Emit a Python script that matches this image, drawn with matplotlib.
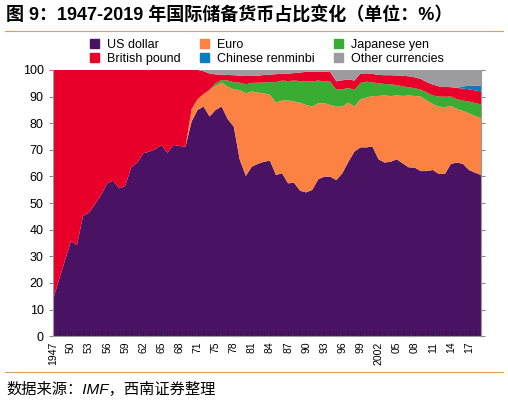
import matplotlib.pyplot as plt
import numpy as np

plt.rcParams['font.family'] = ['Liberation Sans', 'Noto Sans CJK SC', 'DejaVu Sans']

# years on the category axis (one year between 1971 and 1975 is absent in the source)
years = list(range(1947, 1972)) + [1973, 1974] + list(range(1975, 2020))
tick_labels = ['1947', '50', '53', '56', '59', '62', '65', '68', '71', '75', '78', '81',
               '84', '87', '90', '93', '96', '99', '2002', '05', '08', '11', '14', '17']

# shares in %
usd = [13.5, 21.0, 28.3, 35.7, 34.2, 45.1, 46.4, 49.6, 53.0, 57.4, 58.4, 55.5, 56.4, 63.4,
       65.2, 68.7, 69.3, 70.2, 71.8, 68.9, 71.8, 71.4, 71.2, 80.6, 85.0, 86.2, 82.5, 85.0,
       86.2, 81.5, 78.7, 66.2, 60.2, 63.7, 64.7, 65.5, 65.9, 60.5, 61.2, 57.4, 57.6, 54.6,
       54.0, 54.9, 58.9, 59.9, 59.9, 58.6, 61.2, 65.5, 69.3, 70.9, 70.9, 71.2, 66.4, 65.2,
       65.5, 66.4, 64.9, 63.4, 63.3, 62.0, 62.0, 62.4, 60.9, 60.9, 64.7, 65.2, 64.7, 62.4,
       61.4, 60.5]
eur = [0] * 23 + [4.6, 4.0, 4.8, 10.0, 9.0, 9.0, 12.2, 14.0, 26.2, 31.0, 28.2, 26.8, 25.7,
       24.7, 27.2, 27.3, 31.1, 30.5, 33.1, 32.8, 31.3, 28.6, 27.6, 26.9, 27.6, 25.0, 22.2,
       16.9, 18.1, 18.7, 19.0, 23.8, 25.3, 24.6, 24.1, 25.3, 27.0, 26.9, 28.0, 26.5, 24.8,
       25.3, 25.1, 21.8, 20.1, 19.9, 21.3, 21.3, 21.3]
jpy = [0] * 27 + [1.0, 1.0, 2.3, 2.7, 2.8, 3.4, 3.2, 3.7, 4.1, 4.8, 7.7, 7.5, 7.3, 7.9, 8.1,
       8.9, 9.4, 8.5, 8.2, 8.8, 6.4, 6.5, 5.5, 6.3, 6.1, 6.0, 5.1, 4.8, 4.2, 4.5, 3.8, 3.6,
       3.1, 2.9, 2.6, 3.0, 3.2, 3.8, 3.9, 3.5, 3.7, 3.9, 4.4, 4.9, 5.2]
gbp = [86.5, 79.0, 71.7, 64.3, 65.8, 54.9, 53.6, 50.4, 47.0, 42.6, 41.6, 44.5, 43.6, 36.6,
       34.8, 31.3, 30.7, 29.8, 28.2, 31.1, 28.2, 28.6, 28.8, 14.8, 11.0, 8.5, 6.1, 3.3, 2.0,
       2.1, 2.6, 2.6, 3.1, 2.6, 2.6, 2.8, 2.8, 3.0, 2.5, 2.8, 2.8, 3.2, 3.6, 3.7, 3.3, 3.6,
       3.6, 3.1, 3.4, 3.2, 3.5, 3.5, 3.1, 3.2, 3.1, 3.3, 3.4, 3.6, 4.0, 4.1, 4.1, 4.0, 3.9,
       4.1, 3.8, 3.7, 3.5, 4.2, 4.5, 4.6, 4.7, 4.9]
cny = [0] * 68 + [0.8, 1.3, 1.7, 2.3]
other = [0] * 25 + [0.5, 1.4, 1.7, 1.8, 1.9, 2.0, 2.2, 2.3, 2.3, 2.2, 1.9, 1.8, 1.6, 1.5,
         1.4, 1.2, 1.0, 0.7, 0.7, 0.7, 0.7, 0.8, 4.3, 3.9, 3.6, 4.0, 1.4, 1.3, 1.5, 1.9, 2.0,
         2.0, 2.1, 2.2, 2.4, 2.8, 3.4, 4.6, 5.5, 6.2, 6.4, 6.5, 6.8, 6.2, 6.0, 6.0, 5.8]

names = ['US dollar', 'Euro', 'Japanese yen', 'British pound', 'Chinese renminbi', 'Other currencies']
colors = ['#4a1262', '#fb8242', '#3aac34', '#e8002b', '#0a7dc2', '#9c9c9e']

x = np.arange(len(years))

fig = plt.figure(figsize=(5.08, 4.04), dpi=100)
ax = fig.add_axes([0.104, 0.168, 0.843, 0.659])

polys = ax.stackplot(x, usd, eur, jpy, gbp, cny, other, colors=colors, linewidth=0)

ax.set_xlim(0, len(years) - 1)
ax.set_ylim(0, 100)
ax.set_yticks(range(0, 101, 10))
ax.tick_params(axis='y', labelsize=9, length=3, color='#888888', right=True)
ax.set_xticks(x[::3])
ax.set_xticklabels(tick_labels, rotation=90, fontsize=7.5)
ax.set_xticks(x, minor=True)
ax.tick_params(axis='x', which='both', direction='in', length=3, color='#222222', pad=4)
for s in ['left', 'right', 'bottom']:
    ax.spines[s].set_color('#999999')
    ax.spines[s].set_linewidth(0.8)
ax.spines['top'].set_visible(False)

# legend ordered column-wise like the original
order = [0, 3, 1, 4, 2, 5]
handles = [plt.Rectangle((0, 0), 1, 1, color=colors[k]) for k in order]
fig.legend(handles, [names[k] for k in order], ncol=3, loc='upper left',
           bbox_to_anchor=(0.165, 0.919), frameon=False, fontsize=9,
           handlelength=0.75, handleheight=0.75, handletextpad=0.6,
           columnspacing=1.55, labelspacing=0.15, borderpad=0)

fig.text(0.012, 0.962, '图 9：1947-2019 年国际储备货币占比变化（单位：%）',
         fontsize=13, fontweight='bold', va='center', ha='left')
fig.add_artist(plt.Line2D([0.01, 0.99], [0.923, 0.923], color='#d9a05b', lw=0.8))
fig.add_artist(plt.Line2D([0.01, 0.99], [0.078, 0.078], color='#d9a05b', lw=0.8))
fig.text(0.012, 0.035, '数据来源：IMF，西南证券整理', fontsize=11, style='italic',
         va='center', ha='left')

fig.savefig('out.png', dpi=100)
